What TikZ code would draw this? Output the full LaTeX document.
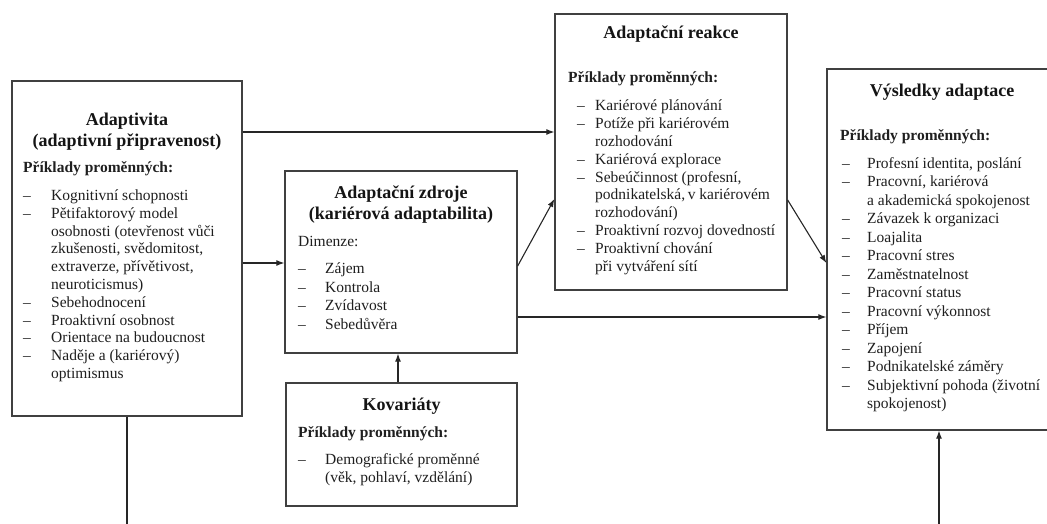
\documentclass[tikz,border=0pt]{standalone}
\usepackage{fontspec}
\setmainfont{Liberation Serif}
\usetikzlibrary{arrows.meta}
\newcommand\ttlfont{\fontsize{18}{21}\selectfont\bfseries}
\newcommand\bodyfont[1]{\fontsize{15.5}{#1}\selectfont}
\tikzset{
  box/.style={draw=black!75, line width=1.3pt, fill=white, inner sep=0pt},
  arr/.style={-{Latex[length=8pt,width=6pt]}, line width=1.1pt, draw=black!85},
  ln/.style={line width=1.1pt, draw=black!85},
  txt/.style={inner sep=0pt, anchor=base west, text=black!88},
  ttl/.style={inner sep=0pt, anchor=base, text=black!92},
}
\begin{document}
\begin{tikzpicture}[x=1pt,y=-1pt]
\useasboundingbox (0,0) rectangle (1047,524);
\clip (0,0) rectangle (1047,524);
% boxes
\node[box, minimum width=230pt, minimum height=335pt] (A) at (127,248.5) {};
\node[box, minimum width=232pt, minimum height=182pt] (B) at (401,262) {};
\node[box, minimum width=231pt, minimum height=123pt] (K) at (401.5,444.5) {};
\node[box, minimum width=232pt, minimum height=276pt] (C) at (671,152) {};
\node[box, minimum width=230pt, minimum height=361pt] (D) at (942,249.5) {};
% helper coordinates
\coordinate (y1) at (0,132);
\coordinate (y2) at (0,263);
\coordinate (y3) at (0,266);
\coordinate (y4) at (0,199);
\coordinate (y5) at (0,200);
\coordinate (y6) at (0,263);
\coordinate (y7) at (0,317);
\coordinate (kb) at (398,0);
\coordinate (abot) at (127,530);
\coordinate (dbot) at (939,530);
% connectors
\draw[arr] (A.east |- y1) -- (C.west |- y1);
\draw[arr] (A.east |- y2) -- (B.west |- y2);
\draw[arr] (B.east |- y3) -- (C.west |- y4);
\draw[arr] (C.east |- y5) -- (D.west |- y6);
\draw[arr] (B.east |- y7) -- (D.west |- y7);
\draw[arr] (K.north -| kb) -- (B.south -| kb);
\draw[ln] (A.south) -- (abot);
\draw[arr] (dbot) -- (dbot |- D.south);
% box A
\node[ttl] (At) at (127,125.5) {\ttlfont\begin{tabular}[t]{@{}c@{}}Adaptivita\\(adaptivní připravenost)\end{tabular}};
\node[txt] (Ap) at (23,172.5) {\bodyfont{17.8}\bfseries Příklady proměnných:};
\node[txt] (Al) at (23,200.5) {\bodyfont{17.8}\begin{tabular}[t]{@{}p{28pt}@{}l@{}}
– & Kognitivní schopnosti\\
– & Pětifaktorový model\\
  & osobnosti (otevřenost vůči\\
  & zkušenosti, svědomitost,\\
  & extraverze, přívětivost,\\
  & neuroticismus)\\
– & Sebehodnocení\\
– & Proaktivní osobnost\\
– & Orientace na budoucnost\\
– & Naděje a (kariérový)\\
  & optimismus
\end{tabular}};
% box B
\node[ttl] (Bt) at (401,198.5) {\ttlfont\begin{tabular}[t]{@{}c@{}}Adaptační zdroje\\(kariérová adaptabilita)\end{tabular}};
\node[txt] (Bp) at (298,246.5) {\bodyfont{18.6}Dimenze:};
\node[txt] (Bl) at (298,273.5) {\bodyfont{18.6}\begin{tabular}[t]{@{}p{27pt}@{}l@{}}
– & Zájem\\
– & Kontrola\\
– & Zvídavost\\
– & Sebedůvěra
\end{tabular}};
% box K
\node[ttl] (Kt) at (401.5,410.5) {\ttlfont Kovariáty};
\node[txt] (Kp) at (298,437.5) {\bodyfont{18}\bfseries Příklady proměnných:};
\node[txt] (Kl) at (298,464.5) {\bodyfont{18}\begin{tabular}[t]{@{}p{27pt}@{}l@{}}
– & Demografické proměnné\\
  & (věk, pohlaví, vzdělání)
\end{tabular}};
% box C
\node[ttl] (Ct) at (671,38.5) {\ttlfont Adaptační reakce};
\node[txt] (Cp) at (568,82.5) {\bodyfont{17.9}\bfseries Příklady proměnných:};
\node[txt] (Cl) at (577,110.5) {\bodyfont{17.9}\begin{tabular}[t]{@{}p{18pt}@{}l@{}}
– & Kariérové plánování\\
– & Potíže při kariérovém\\
  & rozhodování\\
– & Kariérová explorace\\
– & Sebeúčinnost (profesní,\\
  & podnikatelská,\,v kariérovém\\
  & rozhodování)\\
– & Proaktivní rozvoj dovedností\\
– & Proaktivní chování\\
  & při vytváření sítí
\end{tabular}};
% box D
\node[ttl] (Dt) at (942,96.5) {\ttlfont Výsledky adaptace};
\node[txt] (Dp) at (840,140.5) {\bodyfont{18.46}\bfseries Příklady proměnných:};
\node[txt] (Dl) at (842,168.5) {\bodyfont{18.46}\begin{tabular}[t]{@{}p{25pt}@{}l@{}}
– & Profesní identita, poslání\\
– & Pracovní, kariérová\\
  & a akademická spokojenost\\
– & Závazek k organizaci\\
– & Loajalita\\
– & Pracovní stres\\
– & Zaměstnatelnost\\
– & Pracovní status\\
– & Pracovní výkonnost\\
– & Příjem\\
– & Zapojení\\
– & Podnikatelské záměry\\
– & Subjektivní pohoda (životní\\
  & spokojenost)
\end{tabular}};
\end{tikzpicture}
\end{document}
